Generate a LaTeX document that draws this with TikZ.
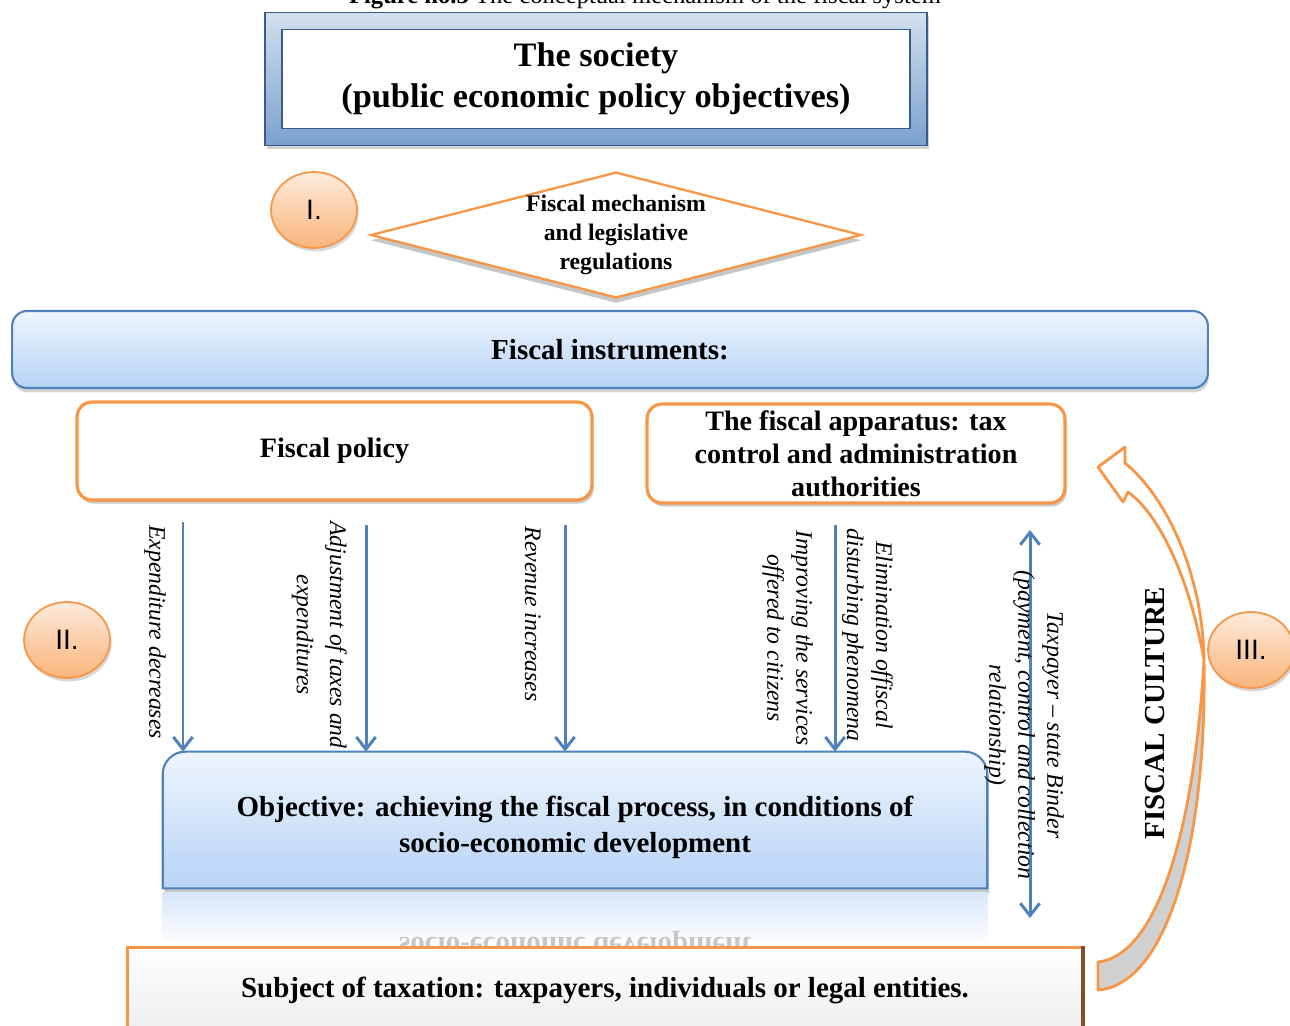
\documentclass[tikz,border=0pt]{standalone}
\usepackage{fontspec}
\setmainfont{Liberation Serif}
\setsansfont{Liberation Sans}
\usetikzlibrary{arrows.meta,positioning,calc,fit,backgrounds,shapes.geometric,shadows}
\definecolor{FcBlue}{HTML}{4F81BD}
\definecolor{FcBlueDk}{HTML}{385D8A}
\definecolor{FcSkyTop}{HTML}{EEF5FD}
\definecolor{FcSkyBot}{HTML}{B7D3F6}
\definecolor{FcOrange}{HTML}{F79646}
\definecolor{FcOrangeDk}{HTML}{8A4E22}
\definecolor{FcPeachTop}{HTML}{FDEBDC}
\definecolor{FcPeachBot}{HTML}{FAB47A}
\definecolor{FcRibbon}{HTML}{D0D0D0}

\begin{document}
\begin{tikzpicture}[x=0.02cm, y=-0.02cm,
  socframe/.style={draw=FcBlueDk, line width=0.8pt, top color=FcBlue!25, bottom color=FcBlue!75, drop shadow={opacity=0.35, shadow xshift=1pt, shadow yshift=-2pt}},
  socbox/.style={draw=FcBlueDk, line width=1pt, fill=white, minimum width=12.56cm, minimum height=1.98cm, inner sep=0pt, align=center, font=\fontsize{19.5}{23}\selectfont\bfseries},
  mechdia/.style={diamond, aspect=3.9, draw=FcOrange, line width=1.3pt, fill=white, inner sep=0pt, minimum width=9.74cm, minimum height=2.5cm, align=center, font=\fontsize{13.5}{16.5}\selectfont\bfseries, drop shadow={opacity=0.45, shadow xshift=0pt, shadow yshift=-3pt}},
  skybar/.style={rounded corners=0.3cm, draw=FcBlue, line width=1.2pt, top color=FcSkyTop, bottom color=FcSkyBot, inner sep=0pt, align=center, drop shadow={opacity=0.35, shadow xshift=0.5pt, shadow yshift=-2.5pt}},
  orbox/.style={rounded corners=0.3cm, draw=FcOrange, line width=1.8pt, fill=white, inner sep=0pt, align=center, font=\fontsize{16}{18.8}\selectfont\bfseries, drop shadow={opacity=0.4, shadow xshift=1pt, shadow yshift=-2pt}},
  objtxt/.style={minimum width=16.48cm, minimum height=2.72cm, inner sep=0pt, align=center, font=\fontsize{16.5}{20.5}\selectfont\bfseries},
  objbox/.style={draw=FcBlue, line width=1.2pt, top color=FcSkyTop, bottom color=FcSkyBot, drop shadow={opacity=0.45, shadow xshift=1pt, shadow yshift=-3pt}},
  subjbox/.style={draw=FcOrange, line width=1.6pt, top color=white, bottom color=gray!14, minimum width=19.12cm, minimum height=1.7cm, inner sep=0pt, font=\fontsize{16.5}{20}\selectfont\bfseries},
  badge/.style={ellipse, draw=FcOrange, line width=1pt, top color=FcPeachTop, bottom color=FcPeachBot, minimum width=1.72cm, minimum height=1.52cm, inner sep=0pt, font=\sffamily\fontsize{16}{18}\selectfont, drop shadow={opacity=0.3, shadow xshift=1pt, shadow yshift=-2pt}},
  lab/.style={font=\itshape\fontsize{13.5}{16.5}\selectfont, align=center, inner sep=1pt},
  flow/.style={-{Straight Barb[length=7pt,width=11pt]}, line width=1.7pt, draw=FcBlue},
  biflow/.style={{Straight Barb[length=7pt,width=11pt]}-{Straight Barb[length=7pt,width=11pt]}, line width=1.7pt, draw=FcBlue},
  ribbon/.style={draw=FcOrange, line width=1.6pt, line join=round}]
\useasboundingbox (0,0) rectangle (1290,1025);
\clip (0,0) rectangle (1290,1025);

% caption, cut by the top edge
\node[anchor=base, inner sep=0pt, font=\fontsize{14}{16}\selectfont] (caption) at (645,3) {\textbf{Figure no.3} The conceptual mechanism of the fiscal system};

% society
\node[socbox] (society) at (596,79) {The society\\(public economic policy objectives)};
\begin{scope}[on background layer]
\node[socframe, fit=(society), inner sep=0.32cm] (socring) {};
\end{scope}

\node[mechdia] (mech) at (616,235) {Fiscal mechanism\\and legislative\\regulations};
\node[badge] (circI) at (314,210) {I.};

% instruments
\node[skybar, minimum width=23.92cm, minimum height=1.54cm, font=\fontsize{16.5}{20}\selectfont\bfseries] (instr) at (610,349.5) {Fiscal instruments:};
\node[orbox, minimum width=10.3cm, minimum height=1.96cm] (policy) at (334.5,451) {Fiscal policy};
\node[orbox, minimum width=8.36cm, minimum height=1.98cm] (apparatus) at (856,453.5) {The fiscal apparatus: tax\\control and administration\\authorities};

% objective
\node[objtxt] (objective) at (575,827) {Objective: achieving the fiscal process, in conditions of\\socio-economic development};
\coordinate (objtop) at ([yshift=0.14cm]objective.north);
\begin{scope}[on background layer]
\path[objbox] ([yshift=0.14cm]objective.south west) [rounded corners=0.45cm] -- ([yshift=0.14cm]objective.north west) -- ([yshift=0.14cm]objective.north east) [sharp corners] -- ([yshift=0.14cm]objective.south east) -- cycle;
\end{scope}
\shade[top color=FcSkyBot!55, bottom color=white] ([yshift=0.06cm]objective.south west) rectangle ([yshift=-1.01cm]objective.south east);
\begin{scope}
\clip ([yshift=0.06cm]objective.south west) rectangle ([yshift=-1.01cm]objective.south east);
\node[font=\fontsize{16.5}{20.5}\selectfont\bfseries, text=gray!45] (mirror) at (575,944) {\scalebox{1}[-1]{socio-economic development}};
\end{scope}

\node[badge] (circII) at (67,640) {II.};

% flows
\coordinate (f1) at (183,522);
\coordinate (f2) at (366,525);
\coordinate (f3) at (565,525);
\coordinate (f4) at (835,525);
\draw[flow] (f1) -- (f1 |- objtop);
\draw[flow] (f2) -- (f2 |- objtop);
\draw[flow] (f3) -- (f3 |- objtop);
\draw[flow] (f4) -- (f4 |- objtop);
\coordinate (b1) at (1030,530);
\coordinate (b2) at (1030,918);
\draw[biflow] (b1) -- (b2);

\node[lab, rotate=-90, anchor=north] (lbl1) at (168,632) {Expenditure decreases};
\node[lab, rotate=-90, anchor=north, font=\itshape\fontsize{13.5}{19}\selectfont] (lbl2) at (349,635) {Adjustment of taxes and\\expenditures};
\node[lab, rotate=-90, anchor=north] (lbl3) at (543,614) {Revenue increases};
\node[lab, rotate=-90, anchor=south] (lbl4) at (840,635) {Elimination offiscal\\disturbing phenomena};
\node[lab, rotate=-90, anchor=north] (lbl5) at (815,638) {Improving the services\\offered to citizens};
\node[lab, rotate=-90] (lbl6) at (1024,725) {Taxpayer -- state Binder\\(payment, control and collection\\relationship)};

% subject
\node[subjbox] (subject) at (605,990) {Subject of taxation: taxpayers, individuals or legal entities.};
\draw[FcOrangeDk, line width=2.2pt] ([xshift=-1pt]subject.north east) -- ([xshift=-1pt]subject.south east);

% fiscal culture ribbon
\path[ribbon, fill=FcRibbon] (1098,962) -- (1098,990) .. controls (1165,985) and (1207,850) .. (1204,660) .. controls (1195,820) and (1160,955) .. (1098,962) -- cycle;
\path[ribbon, fill=white] (1204,660) .. controls (1203,580) and (1170,500) .. (1125,463) -- (1125,447) -- (1098,467) -- (1123,502) -- (1128,492) .. controls (1160,515) and (1190,580) .. (1204,660) -- cycle;
\node[rotate=90, font=\fontsize{16.5}{20}\selectfont\bfseries] (culture) at (1155,713) {FISCAL CULTURE};
\node[badge] (circIII) at (1251,650) {III.};
\end{tikzpicture}
\end{document}
